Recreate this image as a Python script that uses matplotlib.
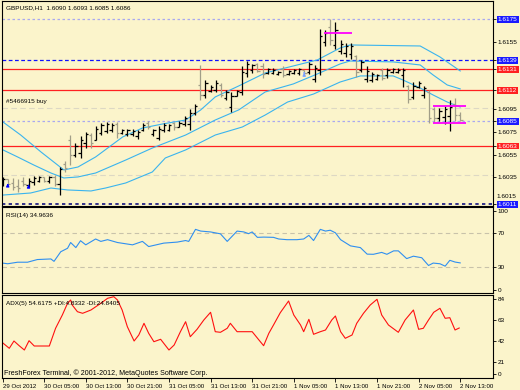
import matplotlib
matplotlib.use("Agg")
from matplotlib import pyplot as plt

# GBPUSD H1, first bar 29 Oct 2012 21:00
opens = [1.6029,1.6033,1.6030,1.6027,1.6032,1.6028,1.6031,1.6032,1.6035,1.6032,
         1.6035,1.6029,1.6047,1.6068,1.6055,1.6056,1.6065,1.6072,1.6068,1.6074,
         1.6076,1.6077,1.6082,1.6074,1.6073,1.6073,1.6071,1.6077,1.6083,1.6073,
         1.6070,1.6077,1.6077,1.6083,1.6079,1.6082,1.6082,1.6092,1.6117,1.6108,
         1.6111,1.6112,1.6117,1.6105,1.6097,1.6107,1.6110,1.6127,1.6130,1.6135,
         1.6133,1.6127,1.6127,1.6126,1.6131,1.6126,1.6127,1.6127,1.6130,1.6128,
         1.6122,1.6130,1.6155,1.6168,1.6152,1.6147,1.6145,1.6144,1.6142,1.6130,
         1.6122,1.6121,1.6122,1.6130,1.6125,1.6128,1.6128,1.6125,1.6116,1.6106,
         1.6115,1.6108,1.6110,1.6095,1.6087,1.6088,1.6089,1.6100,1.6090]
highs = [1.6035,1.6033,1.6034,1.6033,1.6035,1.6034,1.6036,1.6036,1.6035,1.6036,
         1.6037,1.6044,1.6049,1.6072,1.6065,1.6071,1.6075,1.6074,1.6080,1.6083,
         1.6084,1.6083,1.6084,1.6078,1.6078,1.6078,1.6077,1.6083,1.6085,1.6078,
         1.6080,1.6083,1.6082,1.6084,1.6085,1.6089,1.6095,1.6100,1.6134,1.6121,
         1.6117,1.6121,1.6118,1.6112,1.6110,1.6112,1.6133,1.6138,1.6135,1.6136,
         1.6136,1.6132,1.6132,1.6129,1.6133,1.6130,1.6131,1.6132,1.6130,1.6137,
         1.6134,1.6166,1.6165,1.6175,1.6172,1.6156,1.6154,1.6154,1.6143,1.6139,
         1.6133,1.6128,1.6126,1.6132,1.6132,1.6132,1.6132,1.6132,1.6117,1.6119,
         1.6120,1.6116,1.6112,1.6097,1.6096,1.6098,1.6103,1.6105,1.6093]
lows = [1.6027,1.6028,1.6024,1.6022,1.6027,1.6026,1.6028,1.6031,1.6031,1.6030,
        1.6027,1.6019,1.6040,1.6046,1.6053,1.6052,1.6061,1.6061,1.6068,1.6072,
        1.6074,1.6075,1.6070,1.6073,1.6071,1.6071,1.6069,1.6076,1.6078,1.6071,
        1.6068,1.6075,1.6076,1.6077,1.6079,1.6080,1.6077,1.6090,1.6103,1.6105,
        1.6110,1.6110,1.6106,1.6103,1.6093,1.6107,1.6108,1.6124,1.6127,1.6128,
        1.6123,1.6126,1.6126,1.6125,1.6124,1.6125,1.6126,1.6125,1.6126,1.6126,
        1.6119,1.6125,1.6151,1.6152,1.6148,1.6144,1.6141,1.6140,1.6124,1.6128,
        1.6119,1.6119,1.6121,1.6121,1.6123,1.6127,1.6127,1.6115,1.6101,1.6104,
        1.6114,1.6105,1.6083,1.6084,1.6085,1.6082,1.6076,1.6085,1.6085]
closes = [1.6033,1.6029,1.6026,1.6025,1.6029,1.6032,1.6034,1.6035,1.6032,1.6035,
          1.6029,1.6042,1.6043,1.6055,1.6063,1.6068,1.6073,1.6065,1.6078,1.6081,
          1.6082,1.6081,1.6074,1.6077,1.6077,1.6076,1.6075,1.6081,1.6079,1.6077,
          1.6078,1.6081,1.6081,1.6079,1.6083,1.6087,1.6092,1.6098,1.6108,1.6118,
          1.6115,1.6118,1.6108,1.6110,1.6107,1.6111,1.6128,1.6135,1.6134,1.6129,
          1.6126,1.6131,1.6130,1.6128,1.6125,1.6129,1.6130,1.6131,1.6127,1.6135,
          1.6132,1.6160,1.6163,1.6156,1.6165,1.6153,1.6151,1.6151,1.6128,1.6137,
          1.6129,1.6126,1.6125,1.6123,1.6130,1.6131,1.6130,1.6130,1.6104,1.6116,
          1.6118,1.6114,1.6087,1.6087,1.6094,1.6095,1.6097,1.6090,1.6086]

# bollinger bands (bar index, price)
bb_up_x = [0.1,3.5,7.4,11.8,14.5,17.9,23.1,26.9,30.8,35.2,38.1,40.9,45.4,50.5,60.5,64.9,66.8,80.3,84.1,88]
bb_up_y = [1.60838,1.60723,1.60573,1.60414,1.60440,1.60529,1.60706,1.60785,1.60821,1.60856,
           1.60945,1.61060,1.61157,1.61272,1.61387,1.61493,1.61520,1.61511,1.61414,1.61290]
bb_mid_x = [0.1,2.9,6.0,9.3,11.8,14.5,17.9,23.7,28.8,35.2,40.9,45.4,50.5,55.9,60.5,64.9,66.8,75.1,80.3,82.8,85.5,88]
bb_mid_y = [1.60591,1.60529,1.60458,1.60387,1.60343,1.60352,1.60387,1.60502,1.60608,1.60723,1.60856,
            1.60945,1.61104,1.61175,1.61263,1.61352,1.61378,1.61370,1.61343,1.61254,1.61166,1.61131]
bb_lo_x = [0.1,5.4,9.3,12.5,17.0,19.8,23.7,28.8,31.3,35.2,40.9,46.1,50.5,54.8,59.8,64.9,68.8,75.1,77,80.3,82.8,85.5,88]
bb_lo_y = [1.60192,1.60210,1.60254,1.60237,1.60228,1.60254,1.60299,1.60396,1.60520,1.60591,1.60723,
           1.60794,1.60900,1.61015,1.61086,1.61192,1.61246,1.61246,1.61210,1.61139,1.61077,1.61015,1.60971]

rsi_x = [0,1.0,2.9,4.8,6.7,9.3,9.9,11.2,12.5,13.1,14.1,15.0,16.0,17.9,18.9,20.2,22.1,25.0,26.9,28.1,
         31.0,33.6,35.2,35.8,37.1,38.1,40.0,41.9,43.2,45.1,46.4,47.3,48.0,49.0,50.2,52.1,53.1,54.7,
         56.6,57.9,58.9,59.8,61.1,62.1,63.0,64.0,65.0,66.9,68.8,70.1,71.3,72.9,73.9,75.2,76.1,77.7,
         79.0,80.6,81.9,82.8,84.1,85.1,86.0,87.0,88.0]
rsi_y = [34.8,34,35.8,35.8,38.9,39.6,36.8,48,52,58.7,52.8,60.8,56,62.8,60,62,58.7,56,60,54,
         58,59.2,61,60,74,72,71,68.8,60,72,71,69,71,64.7,65,64.7,62.8,62,
         62,62.8,67,61,74,72,73,70,62,54.8,52.8,45.2,45,47.2,45,49,49,40,
         42.8,41,32,34.8,34,31.2,38,36,35]

adx_x = [0,1.3,2.2,3.2,4.2,5.1,6.1,9.0,10.2,11.5,12.5,13.1,13.4,14.4,15.4,17.0,18.9,20.2,21.4,22.1,
         23.0,24.0,25.3,26.2,27.2,28.1,29.1,30.4,32.0,33.0,34.2,35.2,36.1,37.4,38.7,40.0,40.9,41.9,
         43.2,43.8,45.1,48.0,49.3,50.2,51.2,52.1,53.4,55.0,56.0,57.3,57.9,58.9,59.8,61.1,62.1,63.3,
         64.0,65.0,65.9,67.2,68.1,69.4,70.7,72.0,72.9,74.2,76.1,77.4,79.0,80.0,80.9,81.9,82.9,84.1,
         85.1,86.0,87.0,87.8]
adx_y = [40.3,34.7,42,37.3,33,42.3,37,37,54.7,68,79.7,83,78,71.3,69.7,73,79.7,84.7,86.3,83,
         73,56.3,42,48,59.7,49.7,41.3,43.7,33,38,51.3,61.3,46.3,53.7,63,70.7,51.3,50.7,
         54.7,59.7,51.3,51.3,43,37.3,49.7,58,70.3,82,68,58,51.3,63.7,48.7,51.3,53,63,
         67,51.3,44.7,48,59.7,69.7,78,83.7,68,58,50.7,63,73,53.7,54.7,63,70.7,74.7,
         64.7,65.3,53,55]

red_levels = [1.6131, 1.6112, 1.6063]
blue_dash_levels = [1.6139]
dot_levels = [1.6175, 1.6085]
navy_levels = [1.6011]
order_levels = [1.6096, 1.6037]
mag_price = [1.6163, 1.6098, 1.6083]
mag_from = [61.9, 82.8, 82.8]
mag_to = [67.1, 89.1, 89.1]
arrow_i = [1, 5, 58]
arrow_tip = [1.6032, 1.6031, 1.6130]
arrow_tail = [1.6025, 1.6025, 1.6125]
arrow_col = ["#0000ff", "#0000ff", "#7aa0ff"]

price_ticks = [1.6175,1.6155,1.6139,1.6131,1.6112,1.6095,1.6085,1.6075,1.6063,1.6055,1.6035,1.6011]
time_labels = ["29 Oct 2012","30 Oct 05:00","30 Oct 13:00","30 Oct 21:00","31 Oct 05:00","31 Oct 13:00",
               "31 Oct 21:00","1 Nov 05:00","1 Nov 13:00","1 Nov 21:00","2 Nov 05:00","2 Nov 13:00"]

bg = "#fbf4cb"
plt.rcParams['font.family'] = ['Liberation Sans', 'DejaVu Sans']
fs = 4.6

fig = plt.figure(figsize=(5.2, 3.9), dpi=100, facecolor=bg)
W, H = 520.0, 390.0
def box(x0, y0, x1, y1):
    return [x0/W, 1-y1/H, (x1-x0)/W, (y1-y0)/H]

ax = fig.add_axes(box(2, 1, 493, 206))
ax_rsi = fig.add_axes(box(2, 207, 493, 293))
ax_adx = fig.add_axes(box(2, 295, 493, 378))

xlim = (-0.1, 94.3)
for a in (ax, ax_rsi, ax_adx):
    a.set_facecolor(bg)
    a.set_xlim(*xlim)
    for s in a.spines.values():
        s.set_color("black")
        s.set_linewidth(0.8)
    a.yaxis.tick_right()
    a.tick_params(axis="y", length=2, width=0.6, labelsize=fs, pad=1.5, colors="black")
    a.set_xticks([])

# main price chart
ax.set_ylim(1.60095, 1.61909)
for p in red_levels:
    ax.axhline(p, color="#ff2020", lw=0.9)
for p in blue_dash_levels:
    ax.axhline(p, color="#1010ff", lw=0.9, ls=(0, (3, 2)))
for p in dot_levels:
    ax.axhline(p, color="#a8a8f0", lw=0.9, ls=(0, (2, 2)))
for p in navy_levels:
    ax.axhline(p, color="#101080", lw=1.2, ls=(0, (2, 2)))
for p in order_levels:
    ax.axhline(p, color="#ddd8c4", lw=0.8, ls=(0, (5, 3)))

band_col = "#3ab4ee"
ax.plot(bb_up_x, bb_up_y, color=band_col, lw=0.8)
ax.plot(bb_mid_x, bb_mid_y, color=band_col, lw=0.8)
ax.plot(bb_lo_x, bb_lo_y, color=band_col, lw=0.8)

for i in range(len(opens)):
    c = "black" if closes[i] >= opens[i] else "#a29e88"
    ax.vlines(i, lows[i], highs[i], color=c, lw=0.9)
    ax.hlines(opens[i], i - 0.45, i, color=c, lw=0.9)
    ax.hlines(closes[i], i, i + 0.45, color=c, lw=0.9)

for p, a0, a1 in zip(mag_price, mag_from, mag_to):
    ax.hlines(p, a0, a1, color="#ff00ff", lw=1.3)

for i, t0, t1, c in zip(arrow_i, arrow_tip, arrow_tail, arrow_col):
    ax.annotate("", xy=(i, t0), xytext=(i, t1),
                arrowprops=dict(arrowstyle="-|>", color=c, lw=0.9, mutation_scale=4))

ax.set_yticks(price_ticks)
ax.set_yticklabels(["%.4f" % p for p in price_ticks])
for lab, p in zip(ax.get_yticklabels(), price_ticks):
    if p in red_levels:
        lab.set_color("white")
        lab.set_bbox(dict(facecolor="#ff2020", edgecolor="none", pad=0.7))
    elif p in blue_dash_levels or p in dot_levels or p in navy_levels:
        lab.set_color("white")
        lab.set_bbox(dict(facecolor="#1a1aff", edgecolor="none", pad=0.7))
# scale label half hidden behind the 1.6011 box
ax.text(1.008, 1.60175, "1.6015", transform=ax.get_yaxis_transform(), fontsize=fs,
        va="center", ha="left", zorder=1)

ax.text(0.008, 0.965, "GBPUSD,H1  1.6090 1.6093 1.6085 1.6086", transform=ax.transAxes,
        fontsize=fs, va="center", ha="left")
ax.text(0.008, 1.6102, "#5466915 buy", transform=ax.get_yaxis_transform(),
        fontsize=fs, va="center", ha="left")

# RSI
ax_rsi.set_ylim(0, 100)
ax_rsi.axhline(70, color="#c8c2aa", lw=0.8, ls=(0, (4, 3)))
ax_rsi.axhline(30, color="#c8c2aa", lw=0.8, ls=(0, (4, 3)))
ax_rsi.plot(rsi_x, rsi_y, color="#2f8ff0", lw=0.8)
ax_rsi.set_yticks([95, 70, 30, 4])
ax_rsi.set_yticklabels(["100", "70", "30", "0"])
ax_rsi.text(0.008, 0.9, "RSI(14) 34.9636", transform=ax_rsi.transAxes, fontsize=fs, va="center")

# ADX
ax_adx.set_ylim(5, 88)
ax_adx.plot(adx_x, adx_y, color="#ff1010", lw=0.8)
ax_adx.set_yticks([84, 63, 42, 21, 9])
ax_adx.set_yticklabels(["84", "63", "42", "21", "0"])
ax_adx.text(0.008, 0.9, "ADX(5) 54.6175 +DI:4.8332 -DI:24.8405", transform=ax_adx.transAxes,
            fontsize=fs, va="center")
ax_adx.text(0.004, 0.06, "FreshForex Terminal, \u00a9 2001-2012, MetaQuotes Software Corp.",
            transform=ax_adx.transAxes, fontsize=5.1, va="center")

ax_adx.set_xticks(range(0, 89, 8))
ax_adx.set_xticklabels(time_labels, ha="left")
ax_adx.tick_params(axis="x", length=3, width=0.6, labelsize=4.4, pad=1)

fig.savefig("out.png", dpi=100, facecolor=bg)
